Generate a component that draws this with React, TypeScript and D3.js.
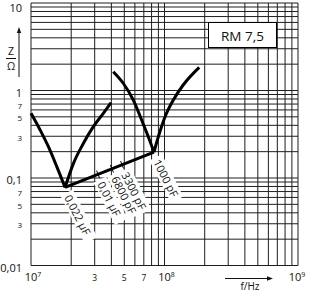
import React from 'react';
import * as d3 from 'd3';

const W = 309;
const H = 299;

// Curve for 0,022 µF (split at resonance)
const c1LeftF = [1.0e7, 1.17e7, 1.35e7, 1.56e7, 1.8e7];
const c1LeftZ = [0.55, 0.354, 0.228, 0.135, 0.078];
const c1RightF = [1.8e7, 2.08e7, 2.47e7, 2.93e7, 3.48e7, 3.97e7];
const c1RightZ = [0.078, 0.147, 0.249, 0.386, 0.549, 0.726];

// Curve for 1000 pF
const c2LeftF = [4.13e7, 4.91e7, 5.83e7, 6.74e7, 7.56e7, 8.34e7];
const c2LeftZ = [1.64, 1.21, 0.78, 0.46, 0.296, 0.198];
const c2RightF = [8.34e7, 8.99e7, 1.01e8, 1.165e8, 1.38e8, 1.82e8];
const c2RightZ = [0.198, 0.296, 0.502, 0.78, 1.156, 1.84];

// Resonance line
const resF = [1.8e7, 8.34e7];
const resZ = [0.078, 0.198];

// Capacitance labels along the resonance line
const capLabels = ['0,022 µF', '0,01 µF', '6800 pF', '3300 pF', '1000 pF'];
const capFreqs = [1.8e7, 3.18e7, 4.04e7, 4.81e7, 8.34e7];
const tickFreqs = [3.18e7, 4.04e7, 4.81e7];

const yMajor = [10, 1, 0.1, 0.01];
const yMajorText = ['10', '1', '0,1', '0,01'];
const yMinor = [0.7, 0.5, 0.3, 0.07, 0.05, 0.03];
const yMinorText = ['7', '5', '3', '7', '5', '3'];
const xMajor = [1e7, 1e8, 1e9];
const xMajorExp = ['7', '8', '9'];
const xMinor = [3e7, 5e7, 7e7];
const xMinorText = ['3', '5', '7'];

const FONT = 'Open Sans, DejaVu Sans, sans-serif';

export default function App() {
  const x = d3.scaleLog().domain([1e7, 1e9]).range([31, 298]);
  const y = d3.scaleLog().domain([0.01, 10]).range([265.5, 3]);

  const gridX: number[] = [];
  for (let d = 1e7; d < 1e9; d *= 10) for (let k = 2; k <= 9; k++) gridX.push(d * k);
  const gridY: number[] = [];
  for (let d = 0.01; d < 9; d *= 10) for (let k = 2; k <= 9; k++) gridY.push(d * k);

  const line = d3
    .line<[number, number]>()
    .x((d) => x(d[0]))
    .y((d) => y(d[1]))
    .curve(d3.curveMonotoneX);
  const straight = d3
    .line<[number, number]>()
    .x((d) => x(d[0]))
    .y((d) => y(d[1]));

  const zip = (a: number[], b: number[]) => a.map((v, i) => [v, b[i]] as [number, number]);
  const branches = [
    zip(c1LeftF, c1LeftZ),
    zip(c1RightF, c1RightZ),
    zip(c2LeftF, c2LeftZ),
    zip(c2RightF, c2RightZ),
  ];

  const lx0 = Math.log10(resF[0]), lx1 = Math.log10(resF[1]);
  const ly0 = Math.log10(resZ[0]), ly1 = Math.log10(resZ[1]);
  const zOnLine = (f: number) => {
    const t = (Math.log10(f) - lx0) / (lx1 - lx0);
    return Math.pow(10, ly0 + t * (ly1 - ly0));
  };
  const p0 = [x(resF[0]), y(resZ[0])];
  const p1 = [x(resF[1]), y(resZ[1])];
  const len = Math.hypot(p1[0] - p0[0], p1[1] - p0[1]);
  const nx = -(p1[1] - p0[1]) / len;
  const ny = (p1[0] - p0[0]) / len;

  const grid = '#1e1e1e';
  const ang = 63;
  const lblOff = (i: number) => [x(capFreqs[i]) + 3, y(zOnLine(capFreqs[i])) + 8];

  return (
    <svg width={W} height={H} style={{ position: 'absolute', left: 0, top: 0, display: 'block', background: '#fff' }}>
      <rect x={0} y={0} width={W} height={H} fill="#fff" />
      {gridX.map((f, i) => (
        <line key={'gx' + i} x1={x(f)} x2={x(f)} y1={y(10)} y2={y(0.01)} stroke={grid} strokeWidth={1} />
      ))}
      {gridY.map((v, i) => (
        <line key={'gy' + i} x1={x(1e7)} x2={x(1e9)} y1={y(v)} y2={y(v)} stroke={grid} strokeWidth={1} />
      ))}
      {[1e7, 1e8, 1e9].map((f, i) => (
        <line key={'mx' + i} x1={x(f)} x2={x(f)} y1={y(10)} y2={y(0.01)} stroke={grid} strokeWidth={1} />
      ))}
      {[10, 1, 0.1, 0.01].map((v, i) => (
        <line key={'my' + i} x1={x(1e7)} x2={x(1e9)} y1={y(v)} y2={y(v)} stroke={grid} strokeWidth={1} />
      ))}

      {/* label boxes */}
      {capLabels.map((t, i) => {
        const [px, py] = lblOff(i);
        const w = t.length * 6.2 + 4;
        return (
          <g key={'lb' + i} transform={`translate(${px},${py}) rotate(${ang})`}>
            <rect x={-3} y={-7} width={w} height={14} fill="#fff" />
          </g>
        );
      })}
      {capLabels.map((t, i) => {
        const [px, py] = lblOff(i);
        return (
          <g key={'lt' + i} transform={`translate(${px},${py}) rotate(${ang})`}>
            <text x={0} y={0} dominantBaseline="central" fontFamily={FONT} fontSize={11} fill="#111">
              {t}
            </text>
          </g>
        );
      })}

      {/* curves */}
      {branches.map((b, i) => (
        <path key={'c' + i} d={line(b) || ''} fill="none" stroke="#000" strokeWidth={3} strokeLinecap="butt" />
      ))}
      <path d={straight(zip(resF, resZ)) || ''} fill="none" stroke="#000" strokeWidth={3} />
      {tickFreqs.map((f, i) => {
        const cx = x(f);
        const cy = y(zOnLine(f));
        return (
          <line key={'tk' + i} x1={cx - nx * 4} y1={cy - ny * 4} x2={cx + nx * 4} y2={cy + ny * 4} stroke="#000" strokeWidth={1} />
        );
      })}

      {/* RM box */}
      <rect x={208.5} y={22.5} width={68} height={25} fill="#fff" stroke="#000" strokeWidth={1} />
      <text x={242.5} y={35.5} textAnchor="middle" dominantBaseline="central" fontFamily={FONT} fontSize={13.5} fill="#111">
        RM 7,5
      </text>

      {/* y labels */}
      {yMajor.map((v, i) => (
        <text key={'yl' + i} x={22} y={Math.max(y(v) + 1.5, 7)} textAnchor="end" dominantBaseline="central" fontFamily={FONT} fontSize={11} fill="#111">
          {yMajorText[i]}
        </text>
      ))}
      {yMinor.map((v, i) => (
        <text key={'ym' + i} x={22} y={y(v) + 1} textAnchor="end" dominantBaseline="central" fontFamily={FONT} fontSize={8} fill="#111">
          {yMinorText[i]}
        </text>
      ))}

      {/* x labels */}
      {xMajor.map((f, i) => (
        <text key={'xl' + i} x={x(f) + (i === 2 ? -1 : 2)} y={281} textAnchor="middle" fontFamily={FONT} fontSize={11} fill="#111">
          10
          <tspan dy={-4} fontSize={7}>
            {xMajorExp[i]}
          </tspan>
        </text>
      ))}
      {xMinor.map((f, i) => (
        <text key={'xm' + i} x={x(f)} y={281} textAnchor="middle" fontFamily={FONT} fontSize={8.5} fill="#111">
          {xMinorText[i]}
        </text>
      ))}

      {/* y axis title */}
      <text x={11} y={51} textAnchor="middle" dominantBaseline="central" fontFamily={FONT} fontSize={10.5} fill="#111">Z</text>
      <line x1={6} x2={16} y1={58.5} y2={58.5} stroke="#111" strokeWidth={1} />
      <text x={11} y={66} textAnchor="middle" dominantBaseline="central" fontFamily={FONT} fontSize={10.5} fill="#111">Ω</text>
      <line x1={19} x2={19} y1={77} y2={32} stroke="#111" strokeWidth={1} />
      <path d="M19,27 L16.8,33 L21.2,33 Z" fill="#111" />

      {/* x axis title */}
      <line x1={225} x2={268} y1={278.5} y2={278.5} stroke="#111" strokeWidth={1} />
      <path d="M273,278.5 L267,276.3 L267,280.7 Z" fill="#111" />
      <text x={250} y={290} textAnchor="middle" fontFamily={FONT} fontSize={10} fill="#111">f/Hz</text>
    </svg>
  );
}
